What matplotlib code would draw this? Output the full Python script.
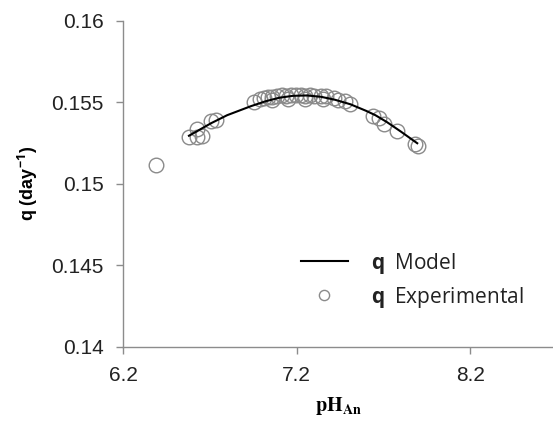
import numpy as np
import matplotlib
matplotlib.use('Agg')
import matplotlib.pyplot as plt

plt.rcParams['font.family'] = ['Liberation Sans', 'DejaVu Sans']
plt.rcParams['mathtext.fontset'] = 'custom'
plt.rcParams['mathtext.rm'] = 'Open Sans'
plt.rcParams['mathtext.bf'] = 'Open Sans:bold'

# model curve
ph_model = [6.58, 6.62, 6.706, 6.80, 6.936, 7.02, 7.10, 7.18, 7.26, 7.34, 7.42, 7.51, 7.60, 7.654, 7.72, 7.80, 7.895]
q_model = [0.15294, 0.15318, 0.15370, 0.15420, 0.15475, 0.15505, 0.15527, 0.15539, 0.15541, 0.15533, 0.15515, 0.15487, 0.15447,
           0.15420, 0.15378, 0.15320, 0.15248]

# experimental points
ph_exp = [6.390, 6.579, 6.625, 6.654, 6.625, 6.706, 6.734, 6.953, 6.987, 7.010, 7.033, 7.056, 7.085,
          7.114, 7.137, 7.166, 7.194, 7.223, 7.246, 7.275, 7.303, 7.338, 7.372, 7.413, 7.441, 7.476,
          7.510, 7.060, 7.150, 7.250, 7.350, 7.643, 7.672, 7.706, 7.780, 7.884, 7.901]
q_exp = [0.15116, 0.15287, 0.15287, 0.15294, 0.15337, 0.15386, 0.15392, 0.15502, 0.15520, 0.15526,
         0.15533, 0.15533, 0.15539, 0.15545, 0.15539, 0.15545, 0.15545, 0.15545, 0.15539, 0.15545,
         0.15539, 0.15539, 0.15539, 0.15526, 0.15514, 0.15508, 0.15490, 0.15515, 0.15522, 0.15522,
         0.15518, 0.15416, 0.15404, 0.15367, 0.15324, 0.15245, 0.15232]

fig = plt.figure(figsize=(5.53, 4.22), dpi=100)
ax = fig.add_axes([0.2224, 0.1784, 0.7776, 0.7727])

circ = ax.plot(ph_exp, q_exp, 'o', mfc='none', mec='#8a8a8a', mew=1.0, ms=10.5, zorder=2)[0]
line = ax.plot(ph_model, q_model, '-', color='black', lw=1.5, zorder=3)[0]

ax.set_xlim(6.2, 8.677)
ax.set_ylim(0.14, 0.16)
ax.set_xticks([6.2, 7.2, 8.2])
ax.set_yticks([0.14, 0.145, 0.15, 0.155, 0.16])
ax.set_yticklabels(['0.14', '0.145', '0.15', '0.155', '0.16'])
ax.set_xticklabels(['6.2', '7.2', '8.2'])

for s in ['top', 'right']:
    ax.spines[s].set_visible(False)
for s in ['left', 'bottom']:
    ax.spines[s].set_color('#8c8c8c')
    ax.spines[s].set_linewidth(1.0)
ax.tick_params(direction='out', length=5, width=1, color='#8c8c8c',
               labelsize=15, labelcolor='#222222', pad=9)

ax.set_ylabel(r'q (day$^{\mathbf{-1}}$)', fontsize=13, fontweight='bold', labelpad=8)
ax.set_xlabel(r'$\mathbf{pH_{An}}$', fontsize=14.5, math_fontfamily='stix', labelpad=7)

leg = ax.legend([line, circ], [r'$\mathbf{q}\enspace$Model', r'$\mathbf{q}\enspace$Experimental'],
                loc='upper left', bbox_to_anchor=(282 / 553, 1 - 232 / 422),
                bbox_transform=fig.transFigure, frameon=False,
                handlelength=2.25, handletextpad=1.1, labelspacing=0.42,
                markerscale=0.7, prop={'family': 'Open Sans', 'size': 15})
for t in leg.get_texts():
    t.set_color('#222222')

fig.savefig('out.png', dpi=100)
